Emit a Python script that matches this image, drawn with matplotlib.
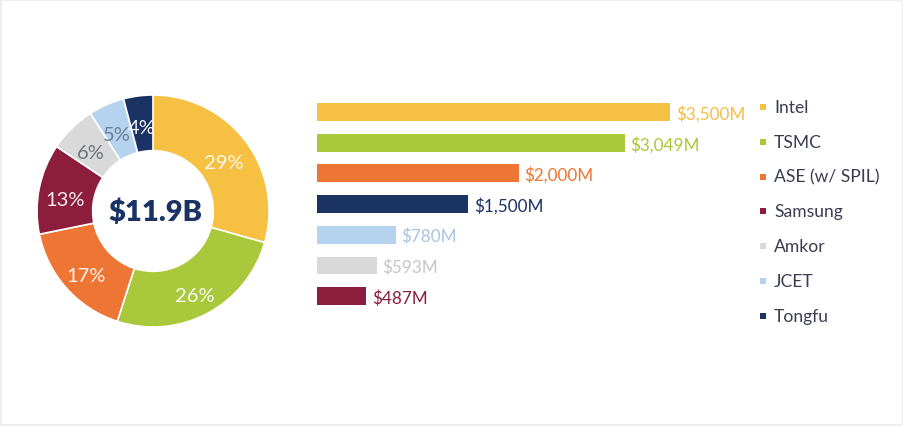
import numpy as np
import matplotlib.pyplot as plt
from matplotlib.patches import Rectangle

plt.rcParams['font.family'] = ['Lato', 'DejaVu Sans']

# data
companies = ['Intel', 'TSMC', 'ASE (w/ SPIL)', 'Samsung', 'Amkor', 'JCET', 'Tongfu']
revenue_m = [3500, 3049, 2000, 1500, 780, 593, 487]
pct_labels = ['29%', '26%', '17%', '13%', '6%', '5%', '4%']
bar_labels = ['$3,500M', '$3,049M', '$2,000M', '$1,500M', '$780M', '$593M', '$487M']
total_label = '$11.9B'

company_colors = ['#F6C143', '#A9C83B', '#EE7634', '#8C1D3C', '#D9D9D9', '#B5D3EF', '#1B3265']
# bar colours as in the source graphic (last four are in reverse order)
bar_colors = ['#F6C143', '#A9C83B', '#EE7634', '#1B3265', '#B5D3EF', '#D9D9D9', '#8C1D3C']
bar_text_colors = ['#F3BE45', '#A9C83B', '#EE7634', '#1B3265', '#A9C5E3', '#C6C6C6', '#8C1D3C']
pct_text_colors = ['#FDF8EE', '#FAFCF2', '#FDF3EC', '#F8EEF0', '#6D7580', '#6D7F94', '#F4F6FA']

W, H = 904, 427
fig = plt.figure(figsize=(W / 100, H / 100), dpi=100)
fig.patch.set_facecolor('white')
fig.patches.append(Rectangle((0, 0), 1, 1, transform=fig.transFigure, fill=False,
                             edgecolor='#EEEEEE', lw=3))

# donut
cx, cy, r = 153, 212, 116
ax_pie = fig.add_axes([(cx - r) / W, (H - cy - r) / H, 2 * r / W, 2 * r / H])
wedges, _ = ax_pie.pie(revenue_m, colors=company_colors, startangle=90, counterclock=False,
                       radius=1, wedgeprops=dict(width=0.48, edgecolor='white', linewidth=1.2))
ax_pie.set_xlim(-1, 1)
ax_pie.set_ylim(-1, 1)
ax_pie.set_aspect('auto')
for w, lab, tc in zip(wedges, pct_labels, pct_text_colors):
    ang = np.deg2rad((w.theta1 + w.theta2) / 2)
    ax_pie.text(0.77 * np.cos(ang), 0.77 * np.sin(ang) - 0.045, lab, ha='center', va='center',
                fontsize=14.5, color=tc)
ax_pie.text(0.02, -0.01, total_label, ha='center', va='center', fontsize=21, fontweight='heavy',
            color='#1B3265')

# bars
bar_left, px_per_m = 317, 0.1009
xmax = 4000
row_h = 30.7
top = 113 - row_h / 2
ax_bar = fig.add_axes([bar_left / W, (H - top - 7 * row_h) / H, xmax * px_per_m / W, 7 * row_h / H])
ypos = np.arange(len(revenue_m))
ax_bar.barh(ypos, revenue_m, height=0.58, color=bar_colors)
for y, v, lab, tc in zip(ypos, revenue_m, bar_labels, bar_text_colors):
    ax_bar.text(v + 55, y + 0.04, lab, ha='left', va='center', fontsize=12.3, color=tc)
ax_bar.set_xlim(0, xmax)
ax_bar.set_ylim(6.5, -0.5)
ax_bar.axis('off')

# legend
ax_leg = fig.add_axes([0, 0, 1, 1])
ax_leg.set_xlim(0, W)
ax_leg.set_ylim(H, 0)
ax_leg.axis('off')
for i, (name, c) in enumerate(zip(companies, company_colors)):
    y = 108 + i * 34.8
    ax_leg.scatter([763], [y], marker='s', s=24, color=c, linewidths=0)
    ax_leg.text(774, y, name, ha='left', va='center', fontsize=12.6, color='#3A3D52')

fig.savefig('out.png', dpi=100)
